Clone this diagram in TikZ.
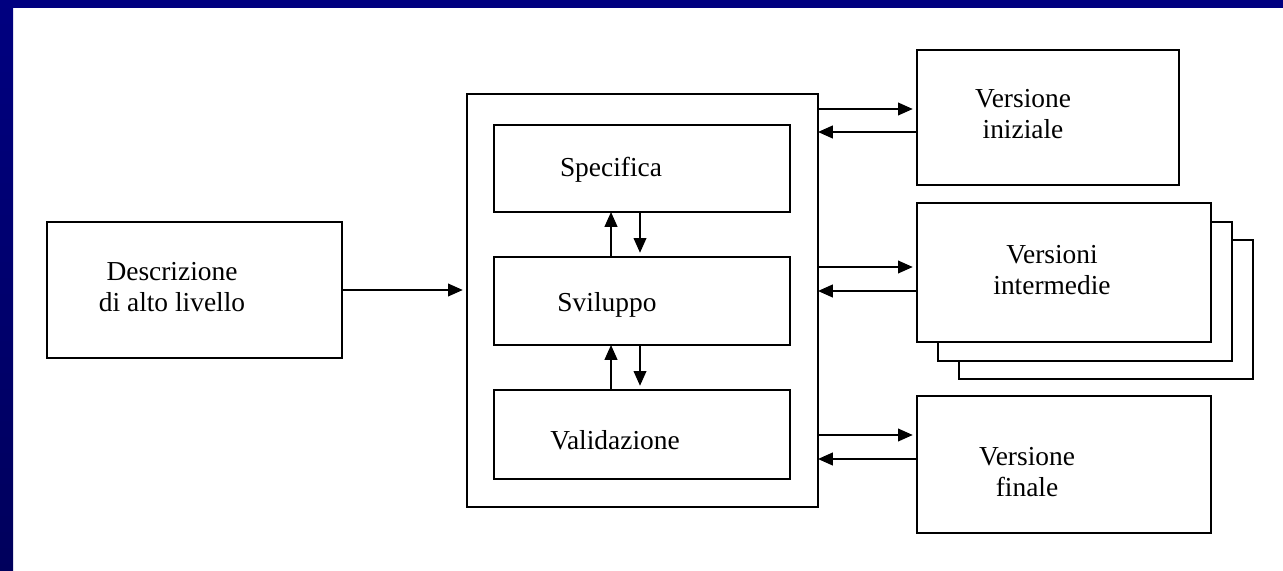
\documentclass[tikz,border=0pt]{standalone}
\usepackage{fontspec}
\setmainfont{Liberation Serif}
\usetikzlibrary{arrows.meta,shapes}
\definecolor{navy}{RGB}{0,0,128}
\definecolor{deepnavy}{RGB}{0,0,92}
\def\u{0.025cm}
\tikzstyle{box}=[rectangle,draw,line width=1.3pt,fill=white,inner sep=0pt,outer sep=0pt]
\tikzstyle{txt}=[align=center,font=\fontsize{19.5}{21.5}\selectfont]
\tikzstyle{link} = [draw,line width=1.3pt,-{Triangle[length=10.5pt,width=9pt]}]

\begin{document}
\begin{tikzpicture}[x=0.025cm,y=-0.025cm]

    \useasboundingbox (0,0) rectangle (1283,571);
    \fill[navy] (0,0) rectangle (1283,8);
    \shade[top color=navy, bottom color=deepnavy] (0,0) rectangle (13,571);

    % boxes
    \foreach \x/\y/\w/\h/\name in {194.5/290/295/136/desc, 642.5/300.5/351/413/outer,
        642/168.5/296/87/spec, 642/301/296/88/svil, 642/434.5/296/89/vali,
        1048/117.5/262/135/ini, 1106/309.5/294/139/inter3, 1085/291.5/294/139/inter2,
        1064/272.5/294/139/inter, 1064/464.5/294/137/fin}
        \node[box, minimum width=\w*\u, minimum height=\h*\u] (\name) at (\x,\y) {};

    % texts
    \foreach \x/\y/\text in {172/287/{Descrizione\\di alto livello}, 611/170/Specifica,
        607/305/Sviluppo, 615/440/Validazione, 1023/114/{Versione\\iniziale},
        1052/270/{Versioni\\intermedie}, 1027/472/{Versione\\finale}}
        \node[txt] at (\x,\y) {\text};

    \path[link, shorten >=3pt] (desc.east) -- (outer.west |- desc.east);

    % inside the development box
    \foreach \source/\dest in {svil/spec, vali/svil}
        \path[link] (\source.north -| 611,0) -- (\dest.south -| 611,0);
    \foreach \source/\dest in {spec/svil, svil/vali}
        \path[link, shorten >=3pt] (\source.south -| 640,0) -- (\dest.north -| 640,0);

    % versions
    \foreach \name/\a/\b in {ini/109/132, inter/267/291, fin/435/459}
    {
        \path[link, shorten >=3pt] (outer.east |- 0,\a) -- (\name.west |- 0,\a);
        \path[link] (\name.west |- 0,\b) -- (outer.east |- 0,\b);
    }

\end{tikzpicture}
\end{document}
